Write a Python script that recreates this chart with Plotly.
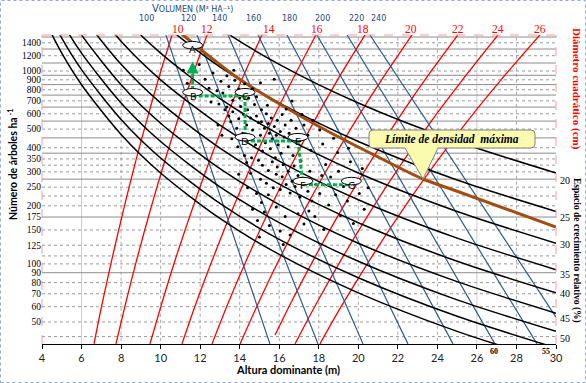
import math
import plotly.graph_objects as go

# ---------------- data ----------------
x_tick_vals = [4, 6, 8, 10, 12, 14, 16, 18, 20, 22, 24, 26, 28, 30]
y_tick_vals = [1600, 1400, 1200, 1000, 900, 800, 700, 600, 500, 400, 350, 300,
               250, 200, 175, 150, 125, 100, 90, 80, 70, 60, 50]
grid_solid_n = [1500, 1300, 1100, 950, 850, 750, 650, 550, 450, 375, 275, 175, 90]
grid_dot_n = [1400, 1200, 1000, 900, 800, 700, 600, 500, 400, 350, 325, 300, 250,
              225, 200, 150, 125, 110, 100, 80, 70, 60, 50, 42]
grid_solid_h = [6, 26]
grid_dot_h = [8, 10, 12, 14, 16, 18, 20, 22, 24, 28]

# relative spacing isolines (black)
rs_labels = [20, 25, 30, 35, 40, 45, 50, 55, 60]
rs_h = [4, 5, 6, 8, 10, 13, 16, 20, 25, 30]
rs20_n = [18910, 11936, 8193, 4523, 2855, 1662, 1083, 683, 431, 296]
rs25_n = [11936, 7532, 5170, 2855, 1802, 1049, 683, 431, 272, 187]
rs30_n = [8193, 5171, 3550, 1960, 1237, 720, 469, 296, 187, 128]
rs35_n = [5961, 3762, 2582, 1426, 900, 524, 341, 215, 136, 93.3]
rs40_n = [4525, 2856, 1960, 1083, 683, 398, 259, 163.5, 103.2, 70.8]
rs45_n = [3549, 2240, 1538, 849, 536, 312, 203, 128, 80.9, 55.5]
rs50_n = [2856, 1803, 1237, 683, 431, 251, 163.6, 103.2, 65.1, 44.7]
rs55_n = [2346, 1481, 1017, 561, 354, 206, 134, 84.8, 53.5, 36.7]
rs60_n = [1960, 1237, 849, 469, 296, 172, 112, 70.8, 44.7, 30.7]

# quadratic mean diameter isolines (red)
dq_labels = [10, 12, 14, 16, 18, 20, 22, 24, 26]
dq_label_h = [10.88, 12.35, 15.48, 17.91, 20.24, 22.66, 25.04, 27.07, 29.19]
dq_n = [38.5, 60, 105, 200, 350, 560, 900, 1540]
dq7_n = [42.8, 60, 105, 200, 350, 560, 900, 1540]
dq1_h = [6.63, 7.01, 7.53, 8.17, 8.77, 9.31, 9.88, 10.58]
dq2_h = [7.74, 8.19, 8.79, 9.54, 10.24, 10.87, 11.54, 12.35]
dq3_h = [9.46, 10.01, 10.74, 11.66, 12.51, 13.28, 14.10, 15.13]
dq4_h = [11.08, 11.73, 12.62, 13.71, 14.74, 15.66, 16.67, 17.86]
dq5_h = [12.60, 13.34, 14.35, 15.60, 16.77, 17.81, 18.95, 20.34]
dq6_h = [14.02, 14.86, 15.99, 17.39, 18.72, 19.90, 21.18, 22.72]
dq7_h = [15.79, 16.49, 17.73, 19.26, 20.70, 21.99, 23.37, 25.04]
dq8_h = [16.80, 17.79, 19.13, 20.79, 22.35, 23.75, 25.27, 27.07]
dq9_h = [18.06, 19.13, 20.58, 22.38, 24.07, 25.58, 27.22, 29.19]

# volume isolines (blue)
vol_labels = [100, 120, 140, 160, 180, 200, 220, 240]
vol_label_h = [9.31, 11.39, 13.0, 14.72, 16.54, 18.21, 19.93, 21.0]
vol_top_h = [10.27, 11.84, 13.41, 14.93, 16.39, 17.91, 19.43, 20.59]
vol_top_n = [1537, 1537, 1537, 1537, 1537, 1537, 1537, 1537]
vol_bot_h = [15.53, 17.96, 20.24, 22.51, 24.79, 26.91, 29.04, 30.0]
vol_bot_n = [38.5, 38.5, 38.5, 38.5, 38.5, 38.5, 38.5, 53.0]

# maximum density line (brown)
maxd_h = [10.6, 11.13, 14.0, 18.06, 21.10, 23.27, 25.0, 30.0]
maxd_n = [1700, 1537, 907, 512.6, 354, 275.5, 238, 155.4]

# management path points
path_names = ["A", "B", "C", "D", "E", "F", "G"]
path_h = [11.62, 11.62, 14.27, 14.27, 16.95, 17.2, 19.65]
path_n = [1301, 742, 742, 434, 434, 257, 257]

# observed plots (scatter)
obs_h = [11.15, 11.35, 11.95, 12.25, 12.45, 12.65, 12.85, 13.05, 13.15, 13.35, 13.45,
         13.65, 13.75, 13.95, 14.05, 14.25, 14.45, 14.65, 12.55, 12.95, 13.35, 14.85,
         13.7, 15.05, 15.75, 16.65,
         13.25, 13.45, 13.55, 13.65, 13.85, 13.95, 14.05, 14.15, 14.2, 14.35, 14.4,
         14.45, 14.55, 14.65, 14.75, 14.8, 14.85, 14.95, 15.05, 15.1, 15.15, 15.1,
         15.25, 15.3, 15.35, 15.45, 15.5, 15.55, 15.6, 15.65, 15.75, 15.8, 15.85,
         15.9, 15.95, 16.05, 16.1, 16.15, 16.25, 16.3, 16.45, 16.5, 16.6, 16.7,
         16.85, 17.05, 17.25, 17.45, 17.7, 18.05, 13.6, 13.9, 14.25, 14.6, 12.9,
         13.1, 14.0, 15.4, 16.35, 17.15,
         14.35, 14.55, 14.95, 15.05, 15.15, 15.35, 15.45, 15.65, 15.7, 15.85, 15.9,
         16.05, 16.15, 16.2, 16.35, 16.45, 16.55, 16.65, 16.75, 16.8, 16.95, 17.05,
         17.1, 17.35, 17.45, 17.55, 17.65, 17.85, 18.05, 18.15, 13.95, 14.4, 14.85,
         15.1, 15.45,
         14.65, 14.9, 15.25, 15.5, 15.85, 16.05, 16.3, 16.55, 16.95, 17.25, 17.5,
         15.0, 16.2, 17.8, 18.25,
         18.35, 18.6, 18.85, 19.0, 19.25, 19.45, 19.6, 19.85, 20.05, 20.3, 18.5,
         19.1, 19.75, 20.5, 18.95, 19.5, 20.2, 17.6, 18.2, 18.75]
obs_n = [1010, 865, 1080, 905, 815, 975, 790, 885, 770, 945, 830,
         705, 895, 805, 755, 860, 725, 810, 690, 675, 650, 735,
         1010, 870, 905, 700,
         630, 585, 545, 615, 505, 565, 655, 475, 595, 525, 630,
         455, 570, 495, 670, 415, 585, 540, 465, 630, 385, 545,
         505, 425, 600, 535, 475, 395, 570, 445, 515, 355, 465,
         555, 415, 485, 375, 595, 455, 525, 405, 475, 555, 365,
         505, 435, 525, 465, 555, 495, 445, 405, 365, 355, 525,
         465, 725, 665, 635, 595,
         335, 295, 345, 275, 325, 262, 305, 338, 248, 292, 318,
         243, 283, 328, 258, 302, 233, 268, 322, 252, 287, 222,
         342, 268, 238, 302, 212, 258, 232, 287, 292, 248, 232,
         208, 228,
         192, 168, 186, 158, 197, 148, 176, 141, 182, 161, 188,
         138, 126, 176, 151,
         328, 282, 228, 302, 252, 212, 338, 268, 232, 192, 202,
         178, 162, 248, 378, 398, 312, 388, 418, 448]

# ---------------- layout helpers (pixel positions of the frame) ----------------
W, HGT = 586, 383
L, R, T, B = 42, 30, 35, 39
PW, PH = W - L - R, HGT - T - B


def px(x):
    return (x - L) / PW


def py(y):
    return (HGT - B - y) / PH


SERIF = "Liberation Serif"
SANS = "Lato"
RED = "#ff0000"
BLUE = "#2b5b8c"
BROWN = "#a24d12"
GREEN = "#00b050"

fig = go.Figure()


def hlines(vals):
    xs, ys = [], []
    for v in vals:
        xs += [4, 30, None]
        ys += [v, v, None]
    return xs, ys


def vlines(vals):
    xs, ys = [], []
    for v in vals:
        xs += [v, v, None]
        ys += [30, 2000, None]
    return xs, ys


# grid lines
gx, gy = vlines(grid_dot_h)
fig.add_trace(go.Scatter(x=gx, y=gy, mode="lines", hoverinfo="skip",
                         line=dict(color="#a6a6a6", width=1, dash="dot")))
gx, gy = vlines(grid_solid_h)
fig.add_trace(go.Scatter(x=gx, y=gy, mode="lines", hoverinfo="skip",
                         line=dict(color="#cfcfcf", width=1)))
gx, gy = hlines(grid_dot_n)
fig.add_trace(go.Scatter(x=gx, y=gy, mode="lines", hoverinfo="skip",
                         line=dict(color="#9a9a9a", width=1, dash="dot")))
gx, gy = hlines(grid_solid_n)
fig.add_trace(go.Scatter(x=gx, y=gy, mode="lines", hoverinfo="skip",
                         line=dict(color="#8c8c8c", width=1)))

# red diameter lines
for hs, ns in [(dq1_h, dq_n), (dq2_h, dq_n), (dq3_h, dq_n), (dq4_h, dq_n),
               (dq5_h, dq_n), (dq6_h, dq_n), (dq7_h, dq7_n), (dq8_h, dq_n),
               (dq9_h, dq_n)]:
    fig.add_trace(go.Scatter(x=hs, y=ns, mode="lines", hoverinfo="skip",
                             line=dict(color=RED, width=1.3, shape="spline", smoothing=0.8)))

# blue volume lines
for i in range(len(vol_top_h)):
    fig.add_trace(go.Scatter(x=[vol_top_h[i], vol_bot_h[i]], y=[vol_top_n[i], vol_bot_n[i]],
                             mode="lines", hoverinfo="skip",
                             line=dict(color=BLUE, width=1.2)))

# black relative spacing lines
for ns in [rs20_n, rs25_n, rs30_n, rs35_n, rs40_n, rs45_n, rs50_n, rs55_n, rs60_n]:
    fig.add_trace(go.Scatter(x=rs_h, y=ns, mode="lines", hoverinfo="skip",
                             line=dict(color="#000000", width=1.5, shape="spline", smoothing=0.8)))

# maximum density line
fig.add_trace(go.Scatter(x=maxd_h, y=maxd_n, mode="lines", hoverinfo="skip",
                         line=dict(color=BROWN, width=3, shape="spline", smoothing=0.8)))

# observed plots
fig.add_trace(go.Scatter(x=obs_h, y=obs_n, mode="markers", hoverinfo="skip",
                         marker=dict(color="#000000", size=3)))

# management path (green dashed)
seg = [(1, 2), (2, 3), (3, 4), (4, 5), (5, 6)]
for a, b in seg:
    fig.add_trace(go.Scatter(x=[path_h[a], path_h[b]], y=[path_n[a], path_n[b]],
                             mode="lines", hoverinfo="skip",
                             line=dict(color=GREEN, width=3, dash="4px,2px")))
fig.add_trace(go.Scatter(x=[path_h[1], path_h[0]], y=[path_n[1], 1060],
                         mode="lines", hoverinfo="skip",
                         line=dict(color=GREEN, width=3, dash="4px,2px")))

shapes = []
annotations = []


def note(x, y, text, font, xref="paper", yref="paper", angle=0, xanchor="center"):
    annotations.append(dict(x=x, y=y, xref=xref, yref=yref, text=text, showarrow=False,
                            textangle=angle, xanchor=xanchor, yanchor="middle", font=font))


# arrow head B -> A
annotations.append(dict(x=path_h[0], y=math.log10(1120), ax=path_h[0], ay=math.log10(1040),
                        xref="x", yref="y", axref="x", ayref="y", text="",
                        showarrow=True, arrowhead=2, arrowsize=0.8, arrowwidth=3,
                        arrowcolor=GREEN))

# ellipses and letters
for nm, h, n in zip(path_names, path_h, path_n):
    shapes.append(dict(type="circle", xref="x", yref="y", xsizemode="pixel", ysizemode="pixel",
                       xanchor=h, yanchor=n, x0=-10, x1=10, y0=-7.5, y1=7.5,
                       fillcolor="white", line=dict(color="#000000", width=1), layer="above"))
    note(h, math.log10(n), nm, dict(family=SANS, size=10, color="#000000"), xref="x", yref="y")

# frame (pink dashed left/top/right)
for (x0, y0, x1, y1) in [(0, 0, 0, 1), (0, 1, 1, 1), (1, 0, 1, 1)]:
    shapes.append(dict(type="line", xref="paper", yref="paper", x0=x0, y0=y0, x1=x1, y1=y1,
                       line=dict(color="#ff9a9a", width=1, dash="dash"), layer="above"))
# outer dotted frame
shapes.append(dict(type="rect", xref="paper", yref="paper", x0=px(0.5), x1=px(585.5),
                   y0=py(382.5), y1=py(0.5), line=dict(color="#8fa8d8", width=1, dash="dot")))

# callout
cl, cr, ct, cb = 369, 535, 130, 148
path = (f"M {px(cl+4)} {py(ct)} L {px(cr-4)} {py(ct)} Q {px(cr)} {py(ct)} {px(cr)} {py(ct+4)} "
        f"L {px(cr)} {py(cb-4)} Q {px(cr)} {py(cb)} {px(cr-4)} {py(cb)} "
        f"L {px(438)} {py(cb)} L {px(423)} {py(179)} L {px(405)} {py(cb)} "
        f"L {px(cl+4)} {py(cb)} Q {px(cl)} {py(cb)} {px(cl)} {py(cb-4)} "
        f"L {px(cl)} {py(ct+4)} Q {px(cl)} {py(ct)} {px(cl+4)} {py(ct)} Z")
shapes.append(dict(type="path", xref="paper", yref="paper", path=path,
                   fillcolor="#fbfbb0", line=dict(color="#808080", width=1), layer="above"))
note(px(451), py(139), "<b><i>Límite de densidad  máxima</i></b>",
     dict(family=SERIF, size=11.5, color="#000000"))

# top labels: volume (blue) and diameter (red)
note(px(192), py(8), "V<span style='font-size:8px'>OLUMEN (M³ HA⁻¹)</span>",
     dict(family="DejaVu Sans", size=10, color="#1f497d"))
for lab, h in zip(vol_labels, vol_label_h):
    note(h, py(18.5), str(lab), dict(family="DejaVu Sans", size=8, color="#1f497d"), xref="x")
for lab, h in zip(dq_labels, dq_label_h):
    note(h, py(29.5), str(lab), dict(family=SERIF, size=11.5, color=RED), xref="x")

# right side labels
note(px(577), py(89), "<b>Diámetro cuadrático (cm)</b>",
     dict(family=SERIF, size=11, color=RED), angle=90)
note(px(577), py(250), "<b>Espacio de crecimiento relativo (%)</b>",
     dict(family=SERIF, size=9.5, color="#000000"), angle=90)
rs_label_py = [180, 217, 244, 274, 293, 318, 338]
for lab, yy in zip(rs_labels[:7], rs_label_py):
    note(px(558), py(yy), str(lab), dict(family=SERIF, size=10, color="#000000"), xanchor="left")
for lab, xx in [(60, 494), (55, 546)]:
    note(px(xx), py(351), f"<b>{lab}</b>", dict(family=SERIF, size=8, color="#000000"))

# axis titles
note(px(12), py(165), "<b>Número de árboles ha<sup> -1</sup></b>",
     dict(family=SANS, size=10.5, color="#000000"), angle=-90)
note(px(288), py(369), "<b>Altura dominante (m)</b>", dict(family=SANS, size=11, color="#000000"))

fig.update_layout(
    template="none",
    width=W, height=HGT, margin=dict(l=L, r=R, t=T, b=B, autoexpand=False),
    paper_bgcolor="white", plot_bgcolor="white", showlegend=False,
    shapes=shapes, annotations=annotations,
    xaxis=dict(range=[4, 30], tickvals=x_tick_vals, ticks="outside", ticklen=4,
               tickcolor="#000000", showline=True, linecolor="#000000", linewidth=1,
               showgrid=False, zeroline=False, automargin=False,
               tickfont=dict(family=SANS, size=11, color="#222222")),
    yaxis=dict(type="log", range=[1.5848, 3.1866], tickvals=y_tick_vals,
               ticktext=[str(v) for v in y_tick_vals], showgrid=False, zeroline=False,
               ticks="", automargin=False, showline=False,
               tickfont=dict(family=SERIF, size=9.5, color="#000000")),
)

fig.write_html("out.html", config={"displayModeBar": False},
               post_script="document.body.style.margin='0px';")
